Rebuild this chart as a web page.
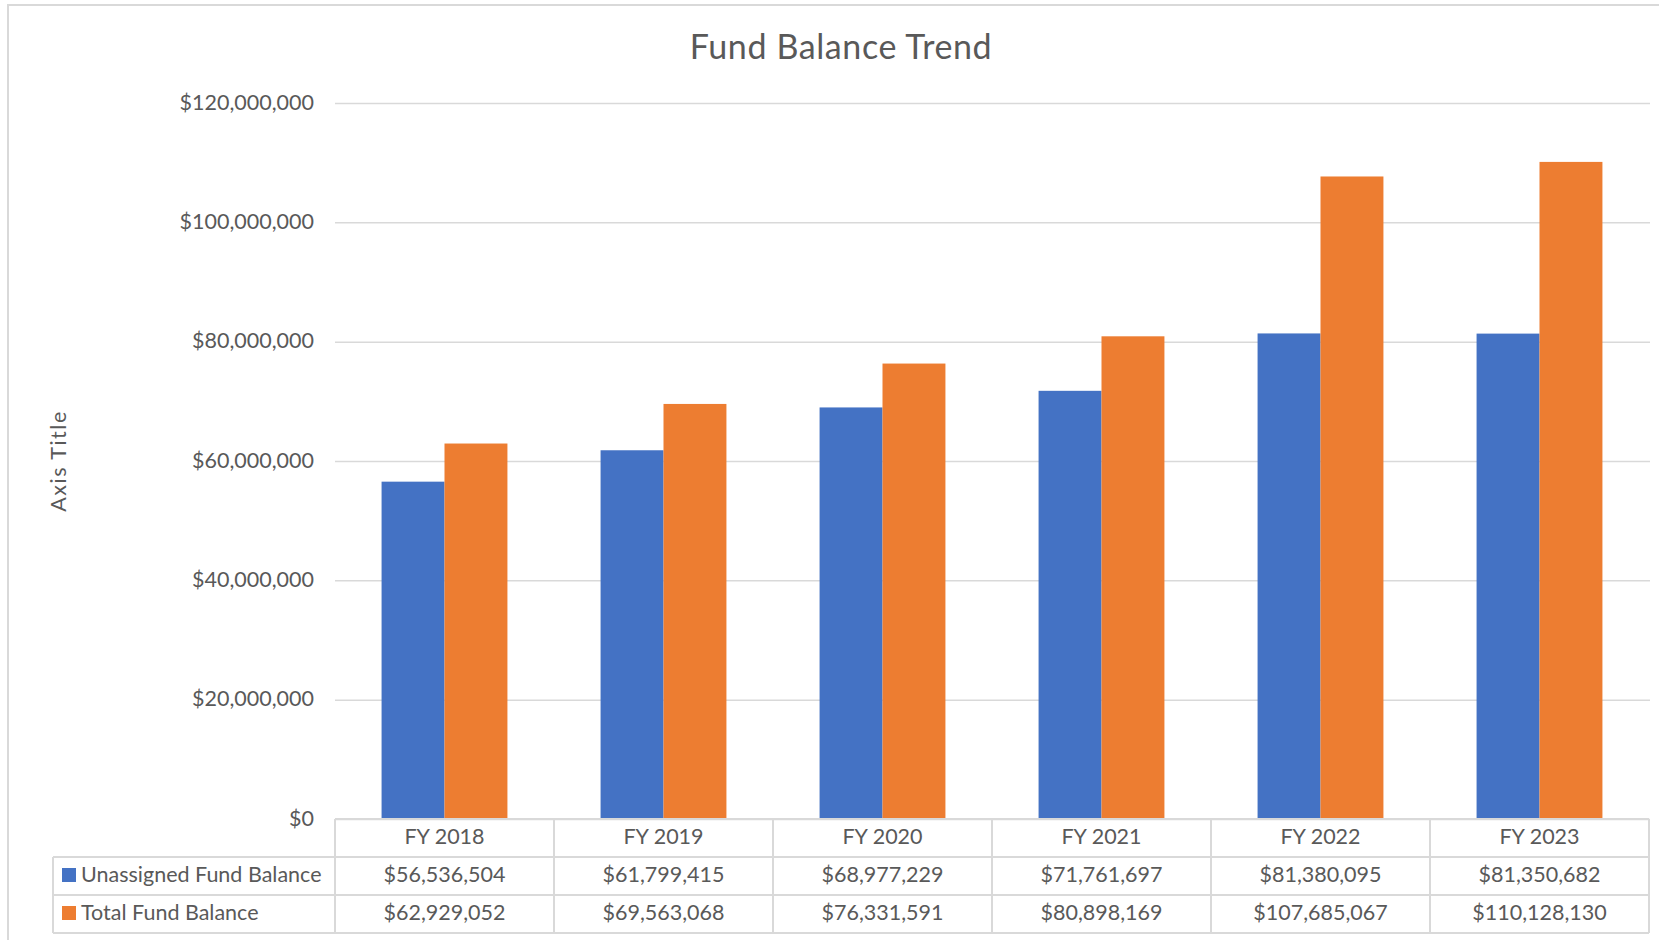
<!DOCTYPE html>
<html>
<head>
<meta charset="utf-8">
<script src="https://cdn.jsdelivr.net/npm/d3@7"></script>
<style>
  body { margin: 0; background: #fff; }
  svg { display: block; font-family: Lato, "Open Sans", sans-serif; }
</style>
</head>
<body>
<div id="chart"></div>
<script>
// chart data
let categories = ["FY 2018", "FY 2019", "FY 2020", "FY 2021", "FY 2022", "FY 2023"];
let seriesNames = ["Unassigned Fund Balance", "Total Fund Balance"];
let unassigned = [56536504, 61799415, 68977229, 71761697, 81380095, 81350682];
let total = [62929052, 69563068, 76331591, 80898169, 107685067, 110128130];
let yTicks = [0, 20000000, 40000000, 60000000, 80000000, 100000000, 120000000];
let colors = ["#4472c4", "#ed7d31"];

// layout
let attrs = {
  width: 1659,
  height: 940,
  plotLeft: 335,
  plotRight: 1649,
  plotTop: 103,
  plotBottom: 819,
  rowHeight: 38,
  labelLeft: 53,
  textColor: "#595959",
  lineColor: "#d9d9d9",
  tickFont: 21.5,
};

let values = [unassigned, total];

let svg = d3
  .select("#chart")
  .append("svg")
  .attr("width", attrs.width)
  .attr("height", attrs.height);

// outer chart frame (extends past the picture on right/bottom)
svg
  .append("rect")
  .attr("x", 8)
  .attr("y", 5)
  .attr("width", attrs.width + 20)
  .attr("height", attrs.height + 20)
  .attr("fill", "none")
  .attr("stroke", attrs.lineColor)
  .attr("stroke-width", 2);

// scales
let x = d3
  .scaleBand()
  .domain(categories)
  .range([attrs.plotLeft, attrs.plotRight])
  .paddingInner(0)
  .paddingOuter(0);

let xSeries = d3
  .scaleBand()
  .domain(seriesNames)
  .range([0, x.bandwidth()])
  .paddingInner(0)
  .paddingOuter(0.74);

let y = d3
  .scaleLinear()
  .domain([0, 120000000])
  .range([attrs.plotBottom, attrs.plotTop]);

let money = d3.format("$,.0f");

// gridlines + tick labels
let yAxis = d3
  .axisLeft(y)
  .tickValues(yTicks)
  .tickSize(-(attrs.plotRight + 1 - attrs.plotLeft))
  .tickPadding(21)
  .tickFormat((d) => money(d));

let gAxis = svg
  .append("g")
  .attr("transform", "translate(" + attrs.plotLeft + ",0)")
  .call(yAxis);

gAxis.select(".domain").remove();
gAxis
  .selectAll(".tick line")
  .attr("stroke", attrs.lineColor)
  .attr("stroke-width", 1.5);
gAxis
  .selectAll(".tick text")
  .attr("fill", attrs.textColor)
  .attr("font-size", attrs.tickFont)
  .attr("font-family", "Lato, sans-serif")
  .attr("dy", "0.28em");

// bars
let rows = seriesNames.map((name, i) => ({ name, color: colors[i], vals: values[i] }));

rows.forEach((s) => {
  svg
    .append("g")
    .selectAll("rect")
    .data(categories)
    .enter()
    .append("rect")
    .attr("x", (d) => x(d) + xSeries(s.name))
    .attr("width", xSeries.bandwidth())
    .attr("y", (d, i) => y(s.vals[i]))
    .attr("height", (d, i) => y(0) - y(s.vals[i]))
    .attr("fill", s.color);
});

// data table
let table = svg.append("g");
let t0 = attrs.plotBottom;
let rh = attrs.rowHeight;

let lineStyle = (sel) =>
  sel.attr("stroke", attrs.lineColor).attr("stroke-width", 2).attr("fill", "none");

// horizontal lines
table.append("line")
  .attr("x1", attrs.plotLeft).attr("x2", attrs.plotRight)
  .attr("y1", t0).attr("y2", t0)
  .call(lineStyle);
[1, 2, 3].forEach((r) => {
  table.append("line")
    .attr("x1", attrs.labelLeft).attr("x2", attrs.plotRight)
    .attr("y1", t0 + r * rh).attr("y2", t0 + r * rh)
    .call(lineStyle);
});

// vertical lines
table.append("line")
  .attr("x1", attrs.labelLeft).attr("x2", attrs.labelLeft)
  .attr("y1", t0 + rh).attr("y2", t0 + 3 * rh)
  .call(lineStyle);
categories.concat([null]).forEach((c, i) => {
  let xx = c ? x(c) : attrs.plotRight;
  table.append("line")
    .attr("x1", xx).attr("x2", xx)
    .attr("y1", t0).attr("y2", t0 + 3 * rh)
    .call(lineStyle);
});

// category header
table
  .selectAll("text.cat")
  .data(categories)
  .enter()
  .append("text")
  .attr("class", "cat")
  .attr("x", (d) => x(d) + x.bandwidth() / 2)
  .attr("y", t0 + rh / 2)
  .attr("dy", "0.28em")
  .attr("text-anchor", "middle")
  .attr("font-size", attrs.tickFont)
  .attr("fill", attrs.textColor)
  .text((d) => d);

// series rows
rows.forEach((s, r) => {
  let cy = t0 + rh * (r + 1) + rh / 2;

  table.append("rect")
    .attr("x", 62)
    .attr("y", cy - 8)
    .attr("width", 14)
    .attr("height", 14)
    .attr("fill", s.color);

  table.append("text")
    .attr("x", 81)
    .attr("y", cy)
    .attr("dy", "0.28em")
    .attr("font-size", attrs.tickFont)
    .attr("fill", attrs.textColor)
    .text(s.name);

  table
    .selectAll("text.v" + r)
    .data(categories)
    .enter()
    .append("text")
    .attr("class", "v" + r)
    .attr("x", (d) => x(d) + x.bandwidth() / 2)
    .attr("y", cy)
    .attr("dy", "0.28em")
    .attr("text-anchor", "middle")
    .attr("font-size", attrs.tickFont)
    .attr("fill", attrs.textColor)
    .text((d, i) => money(s.vals[i]));
});

// title
svg
  .append("text")
  .attr("x", 841)
  .attr("y", 59)
  .attr("text-anchor", "middle")
  .attr("font-size", 34)
  .attr("letter-spacing", 0.6)
  .attr("fill", attrs.textColor)
  .text("Fund Balance Trend");

// y axis title
svg
  .append("text")
  .attr("transform", "translate(66,461) rotate(-90)")
  .attr("text-anchor", "middle")
  .attr("font-size", attrs.tickFont)
  .attr("letter-spacing", 1.5)
  .attr("fill", attrs.textColor)
  .text("Axis Title");
</script>
</body>
</html>
